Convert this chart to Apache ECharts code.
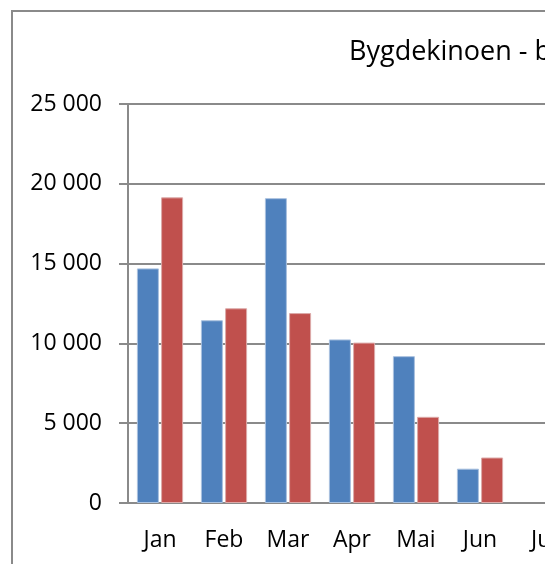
<!DOCTYPE html>
<html>
<head>
<meta charset="utf-8">
<script src="https://cdn.jsdelivr.net/npm/echarts@6/dist/echarts.min.js"></script>
<style>
  html, body { margin: 0; padding: 0; background: #fff; overflow: hidden; width: 545px; height: 564px; }
  #myChart { width: 1000px; height: 564px; }
</style>
</head>
<body>
<div id="myChart"></div>
<script>
// data
const months = ['Jan', 'Feb', 'Mar', 'Apr', 'Mai', 'Jun', 'Jul', 'Aug', 'Sep', 'Okt', 'Nov', 'Des']
const data1 = [14700, 11450, 19100, 10250, 9200, 2150, null, null, null, null, null, null]
const data2 = [19150, 12200, 11900, 10050, 5400, 2850, null, null, null, null, null, null]
const yTicks = [0, 5000, 10000, 15000, 20000, 25000]
const title = 'Bygdekinoen - besøk'

const myChart = echarts.init(document.getElementById('myChart'))
const font = '"Open Sans", sans-serif'

myChart.setOption({
  animation: false,
  color: ['#4F81BD', '#C0504D'],
  title: {
    text: title,
    left: 344,
    top: 34,
    textStyle: {
      color: '#000',
      fontWeight: 'normal',
      fontSize: 27,
      fontFamily: font
    }
  },
  graphic: [
    {
      type: 'rect',
      shape: { x: 12, y: 11, width: 1200, height: 1200 },
      style: { fill: 'none', stroke: '#8a8a8a', lineWidth: 2 },
      silent: true
    }
  ],
  grid: {
    left: 128,
    top: 104,
    width: 768,
    height: 399
  },
  xAxis: {
    type: 'category',
    data: months,
    axisLine: {
      lineStyle: { color: '#8a8a8a', width: 2 }
    },
    axisTick: {
      length: 8,
      lineStyle: { color: '#8a8a8a', width: 2 }
    },
    axisLabel: {
      color: '#000',
      fontSize: 23,
      fontFamily: font,
      margin: 26,
      interval: 0
    }
  },
  yAxis: {
    type: 'value',
    min: yTicks[0],
    max: yTicks[yTicks.length - 1],
    interval: 5000,
    axisLine: {
      show: true,
      lineStyle: { color: '#8a8a8a', width: 2 }
    },
    axisTick: {
      show: true,
      length: 9,
      lineStyle: { color: '#8a8a8a', width: 2 }
    },
    axisLabel: {
      color: '#000',
      fontSize: 23,
      fontFamily: font,
      margin: 26,
      formatter: (v) => String(v).replace(/\B(?=(\d{3})+(?!\d))/g, ' ')
    },
    splitLine: {
      lineStyle: { color: '#8a8a8a', width: 2 }
    }
  },
  series: [
    {
      name: '2012',
      type: 'bar',
      data: data1,
      barWidth: 22,
      barGap: '10%',
      itemStyle: { borderColor: '#a9c1df', borderWidth: 1 }
    },
    {
      name: '2013',
      type: 'bar',
      data: data2,
      barWidth: 22,
      itemStyle: { borderColor: '#dcaaa9', borderWidth: 1 }
    }
  ]
})
</script>
</body>
</html>
